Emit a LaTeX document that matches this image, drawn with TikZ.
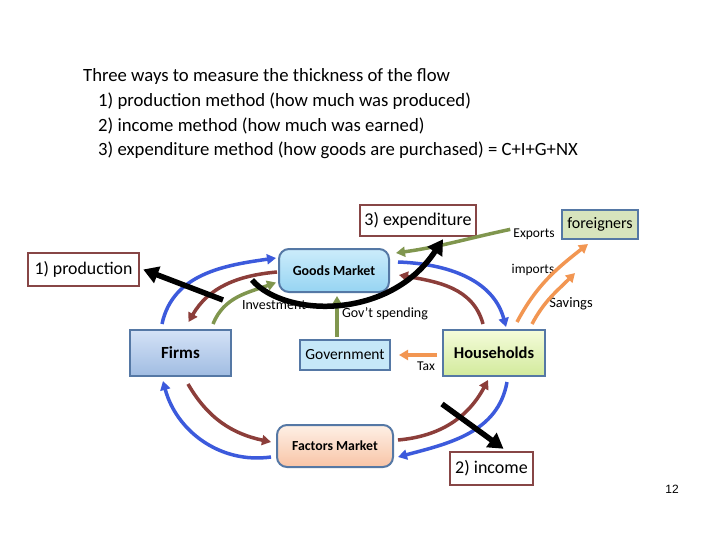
\documentclass[tikz,border=0pt]{standalone}
\usepackage{fontspec}
\setmainfont{Carlito}
\newfontfamily\arialfont{Liberation Sans}
\usetikzlibrary{arrows.meta}
\definecolor{nodeborder}{RGB}{85,120,165}
\definecolor{methodbrown}{RGB}{135,70,70}
\definecolor{blueflow}{RGB}{60,90,220}
\definecolor{brownflow}{RGB}{140,62,58}
\definecolor{greenflow}{RGB}{128,150,78}
\definecolor{orangeflow}{RGB}{242,150,82}
\definecolor{firmtop}{RGB}{212,226,246}
\definecolor{firmbot}{RGB}{160,188,226}
\definecolor{housetop}{RGB}{244,252,218}
\definecolor{housebot}{RGB}{210,234,156}
\definecolor{goodstop}{RGB}{204,236,251}
\definecolor{goodsbot}{RGB}{150,212,242}
\definecolor{factop}{RGB}{254,240,230}
\definecolor{facbot}{RGB}{248,196,166}
\definecolor{govfill}{RGB}{198,232,248}
\definecolor{forfill}{RGB}{215,228,189}
\tikzset{
  sectorbox/.style={draw=nodeborder, line width=2pt, inner sep=0pt},
  methodbox/.style={draw=methodbrown, line width=2.5pt, fill=white, inner sep=0pt},
  lbl/.style={font=\fontsize{13.5}{15}\selectfont, inner sep=0pt},
  flow/.style={line width=3.5pt, -{Triangle[length=9pt,width=10pt]}},
  bigflow/.style={line width=5.5pt, -{Triangle[length=15pt,width=17pt]}},
  titleline/.style={anchor=base west, inner sep=0pt, font=\fontsize{18.7}{22}\selectfont}
}
\begin{document}
\begin{tikzpicture}[x=1pt,y=1pt]
\useasboundingbox (0,0) rectangle (720,-540);
\fill[white] (0,0) rectangle (720,-540);

% title
\node[titleline] (t1) at (83,-82) {Three ways to measure the thickness of the flow};
\node[titleline] (t2) at (98,-107) {1) production method (how much was produced)};
\node[titleline] (t3) at (98,-132) {2) income method (how much was earned)};
\node[titleline] (t4) at (98,-156) {3) expenditure method (how goods are purchased) = C+I+G+NX};

% nodes
\node[sectorbox, top color=firmtop, bottom color=firmbot, minimum width=101pt, minimum height=46pt,
      font=\fontsize{17}{19}\selectfont\bfseries] (firms) at (180.5,-353) {Firms};
\node[sectorbox, top color=housetop, bottom color=housebot, minimum width=102pt, minimum height=46pt,
      font=\fontsize{16.5}{18}\selectfont\bfseries] (house) at (494,-353) {Households};
\node[sectorbox, fill=govfill, minimum width=90pt, minimum height=30pt,
      font=\fontsize{15.5}{17}\selectfont] (gov) at (345,-355) {Government};
\node[sectorbox, rounded corners=10pt, top color=goodstop, bottom color=goodsbot, minimum width=110pt, minimum height=43pt,
      font=\fontsize{14}{16}\selectfont\bfseries] (goods) at (334,-270.5) {Goods Market};
\node[sectorbox, rounded corners=10pt, top color=factop, bottom color=facbot, minimum width=116pt, minimum height=42pt,
      font=\fontsize{13.8}{16}\selectfont\bfseries] (factors) at (335,-446) {Factors Market};
\node[sectorbox, fill=forfill, minimum width=76pt, minimum height=29pt,
      font=\fontsize{16}{18}\selectfont] (foreign) at (600,-224.5) {foreigners};

\node[methodbox, minimum width=111pt, minimum height=33pt, font=\fontsize{17.8}{20}\selectfont] (prod) at (83.5,-269.5) {1) production};
\node[methodbox, minimum width=116pt, minimum height=31pt, font=\fontsize{18}{20}\selectfont] (exp) at (418,-220.5) {3) expenditure};
\node[methodbox, minimum width=83pt, minimum height=33pt, font=\fontsize{18}{20}\selectfont] (income) at (491.5,-468.5) {2) income};

% labels
\node[lbl] (exports) at (534,-234) {Exports};
\node[lbl] (imports) at (533,-270) {imports};
\node[lbl, font=\fontsize{14}{16}\selectfont] (invest) at (274,-305) {Investment};
\node[lbl, font=\fontsize{14}{16}\selectfont] (govsp) at (385,-314) {Gov't spending};
\node[lbl, font=\fontsize{14.5}{16}\selectfont] (savings) at (571,-304) {Savings};
\node[lbl] (tax) at (426,-366) {Tax};
\node[inner sep=0pt, font=\arialfont\fontsize{12}{14}\selectfont] (pagenum) at (672,-489) {12};

% free ends
\coordinate (savend) at (575,-273);
\coordinate (prodstart) at (223,-300);
\coordinate (expstart) at (252,-280);
\coordinate (incstart) at (442,-404);

% blue flows (goods & factors)
\draw[flow, blueflow] ([shift={(-18.5,5)}]firms.north) to[out=78,in=188] ([shift={(-2,12.5)}]goods.west);
\draw[flow, blueflow] ([shift={(8,8.5)}]goods.east) to[out=-2,in=105] ([shift={(12,2)}]house.north);
\draw[flow, blueflow] ([shift={(13,-5)}]house.south) to[out=-100,in=15] ([shift={(4,-11)}]factors.east);
\draw[flow, blueflow] ([shift={(-5,-11)}]factors.west) to[out=188,in=-75] ([shift={(-17.5,-4)}]firms.south);

% brown flows (money)
\draw[flow, brownflow] ([shift={(-1,-1.5)}]goods.west) to[out=185,in=60] ([shift={(8,7)}]firms.north);
\draw[flow, brownflow] ([shift={(-11,5)}]house.north) to[out=105,in=-10] ([shift={(9,-4.5)}]goods.east);
\draw[flow, brownflow] ([shift={(7.5,-7)}]firms.south) to[out=-60,in=168] ([shift={(-5,4)}]factors.west);
\draw[flow, brownflow] ([shift={(4,6)}]factors.east) to[out=5,in=-118] ([shift={(-6,-3)}]house.south);

% green flows
\draw[flow, greenflow] ([shift={(32.5,5)}]firms.north) to[out=68,in=200] ([shift={(-2,-12)}]goods.west);
\draw[flow, greenflow] ([shift={(-8,2)}]gov.north) -- ([shift={(3,-3)}]goods.south);
\draw[flow, greenflow] ([shift={(-3,-1)}]exports.north west) to[out=192,in=8] ([shift={(6,17.5)}]goods.east);

% orange flows
\draw[flow, orangeflow] ([shift={(-5,-2)}]house.west) -- ([xshift=8]gov.east);
\draw[flow, orangeflow] ([shift={(23,7)}]house.north) to[out=62,in=218] ([shift={(-12,-4)}]foreign.south);
\draw[flow, orangeflow] ([shift={(38,5)}]house.north) to[out=62,in=225] (savend);

% black measurement arrows
\draw[bigflow] (prodstart) -- ([xshift=3]prod.east);
\draw[bigflow] (expstart) .. controls (285,-318) and (390,-320) .. ([shift={(25,-2)}]exp.south);
\draw[bigflow] (incstart) -- ([shift={(12,2)}]income.north);
\end{tikzpicture}
\end{document}
